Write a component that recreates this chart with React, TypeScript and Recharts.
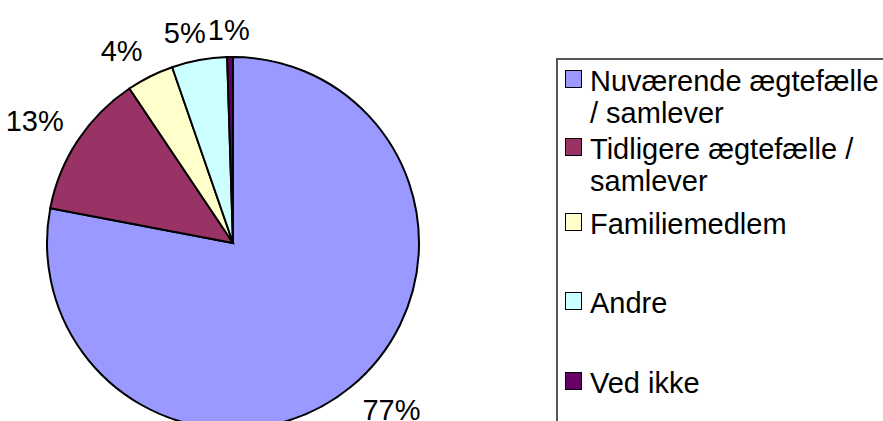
import React from 'react';
import { PieChart, Pie, Cell, Legend } from 'recharts';

const categories = [
  'Nuværende ægtefælle / samlever',
  'Tidligere ægtefælle / samlever',
  'Familiemedlem',
  'Andre',
  'Ved ikke',
];
const shares = [78.0, 12.6, 4.1, 4.8, 0.5];
const percentLabels = ['77%', '13%', '4%', '5%', '1%'];
const colors = ['#9999FF', '#993366', '#FFFFCC', '#CCFFFF', '#660066'];

const data = categories.map((name, i) => ({ name, value: shares[i], label: percentLabels[i] }));

const FONT = 'Arial, "Liberation Sans", sans-serif';
const FONT_SIZE = 29;

const clamp = (v: number) => Math.max(-1, Math.min(1, v));

const renderLabel = (props: any) => {
  const { cx, cy, midAngle, outerRadius, index } = props;
  const RAD = Math.PI / 180;
  const ux = Math.cos(-midAngle * RAD);
  const uy = Math.sin(-midAngle * RAD);
  const text = percentLabels[index];
  const w = ((text.length - 1) * 0.556 + 0.889) * FONT_SIZE;
  const h = 21;
  const d = outerRadius + 17;
  const x = cx + ux * d + (clamp(ux * 3) * w) / 2;
  const y = cy + uy * d + (clamp(uy * 3) * h) / 2;
  return (
    <text
      x={x}
      y={y}
      textAnchor="middle"
      dominantBaseline="central"
      fontFamily={FONT}
      fontSize={FONT_SIZE}
      fill="#000"
    >
      {text}
    </text>
  );
};

const entryTops = [5, 73, 148, 227, 307];

const renderLegend = (props: any) => {
  const payload = props.payload || [];
  const ordered = categories.map((name, i) => {
    const found = payload.find((p: any) => p.value === name);
    return { name: found ? found.value : name, color: colors[i] };
  });
  return (
    <div style={{ position: 'relative', width: '100%', height: '100%' }}>
      {ordered.map((entry, i) => (
        <div
          key={i}
          style={{
            position: 'absolute',
            top: entryTops[i],
            left: 0,
            width: 330,
            fontFamily: FONT,
            fontSize: FONT_SIZE,
            lineHeight: '32px',
            color: '#000',
          }}
        >
          <div
            style={{
              position: 'absolute',
              left: 7,
              top: 5,
              width: 17,
              height: 18,
              boxSizing: 'border-box',
              background: entry.color,
              border: '1.5px solid #000',
            }}
          />
          <div style={{ marginLeft: 32, width: 292 }}>{entry.name}</div>
        </div>
      ))}
    </div>
  );
};

export default function App() {
  return (
    <div
      style={{
        position: 'fixed',
        left: 0,
        top: 0,
        width: 883,
        height: 421,
        overflow: 'hidden',
        background: '#fff',
      }}
    >
      <PieChart width={883} height={421} margin={{ top: 0, right: 0, bottom: 0, left: 0 }}>
        <Pie
          data={data}
          dataKey="value"
          nameKey="name"
          cx={233}
          cy={243}
          outerRadius={186}
          startAngle={90}
          endAngle={-270}
          stroke="#000"
          strokeWidth={2}
          label={renderLabel}
          labelLine={false}
          isAnimationActive={false}
        >
          {data.map((_, i) => (
            <Cell key={i} fill={colors[i]} />
          ))}
        </Pie>
        <Legend
          layout="vertical"
          align="right"
          verticalAlign="middle"
          content={renderLegend}
          wrapperStyle={{
            left: 556,
            top: 58,
            right: 'auto',
            bottom: 'auto',
            width: 340,
            height: 380,
            boxSizing: 'border-box',
            border: '2px solid #555',
            background: '#fff',
          }}
        />
      </PieChart>
    </div>
  );
}
